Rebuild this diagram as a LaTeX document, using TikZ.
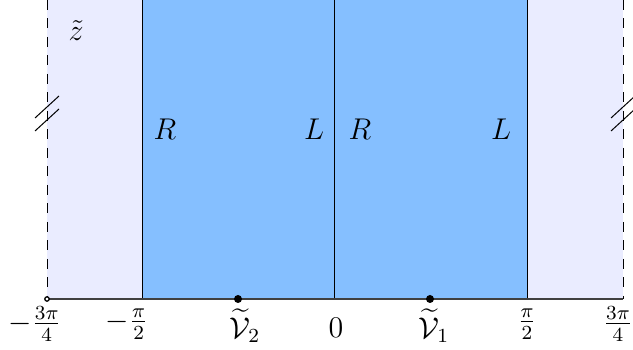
\documentclass[tikz,border=0pt]{standalone}
\usepackage{amsmath}
\definecolor{stripblue}{RGB}{133,191,255}
\definecolor{paleblue}{RGB}{234,236,255}
\tikzset{
  boundary/.style={black, line width=0.4pt},
  cutline/.style={black, dash pattern=on 4pt off 3.4pt, line width=0.4pt},
  axisline/.style={black!75, line width=0.8pt},
  slashmark/.style={black, line width=0.4pt},
  lab/.style={inner sep=0pt, font=\fontsize{12}{14}\selectfont},
  dotpt/.style={circle, fill=black, inner sep=0pt, minimum size=3.2pt},
}
\begin{document}
\begin{tikzpicture}[x=0.4pt,y=-0.4pt]
\useasboundingbox (0,0) rectangle (633,350);
% fills
\fill[paleblue] (47,0) rectangle (142,299);
\fill[paleblue] (527,0) rectangle (623,299);
\fill[stripblue] (142,0) rectangle (527,299);
% coordinates
\coordinate (tl) at (47,0);
\coordinate (bl) at (47,299);
\coordinate (tr) at (623,0);
\coordinate (br) at (623,299);
\coordinate (m2t) at (142,0);
\coordinate (m2b) at (142,299);
\coordinate (zt) at (334,0);
\coordinate (zb) at (334,299);
\coordinate (p2t) at (527,0);
\coordinate (p2b) at (527,299);
% vertical lines
\draw[boundary] (m2t) -- (m2b);
\draw[boundary] (zt) -- (zb);
\draw[boundary] (p2t) -- (p2b);
\draw[cutline] (tl) -- (bl);
\draw[cutline] (tr) -- (br);
% axis
\draw[axisline] (bl) -- (br);
% slash marks
\draw[slashmark] (35,118) -- (59,96);
\draw[slashmark] (35,131) -- (59,109);
\draw[slashmark] (611,118) -- (635,96);
\draw[slashmark] (611,131) -- (635,109);
% endpoint circle
\draw[black, line width=0.5pt, fill=white] (bl) circle (2.2);
% points
\node[dotpt] (v2) at (238,299) {};
\node[dotpt] (v1) at (430,299) {};
% region labels
\node[lab] (zlab) at (76,31) {$\tilde z$};
\node[lab] (r1) at (165,129) {$R$};
\node[lab] (l1) at (314,129) {$L$};
\node[lab] (r2) at (360,129) {$R$};
\node[lab] (l2) at (501,129) {$L$};
% axis labels
\node[lab] (a1) at (35,324) {$-\frac{3\pi}{4}$};
\node[lab] (a2) at (127,324) {$-\frac{\pi}{2}$};
\node[lab] (a3) at (245,326) {$\widetilde{\mathcal{V}}_2$};
\node[lab] (a4) at (336,328) {$0$};
\node[lab] (a5) at (434,326) {$\widetilde{\mathcal{V}}_1$};
\node[lab] (a6) at (527,324) {$\frac{\pi}{2}$};
\node[lab] (a7) at (618,324) {$\frac{3\pi}{4}$};
\end{tikzpicture}
\end{document}
